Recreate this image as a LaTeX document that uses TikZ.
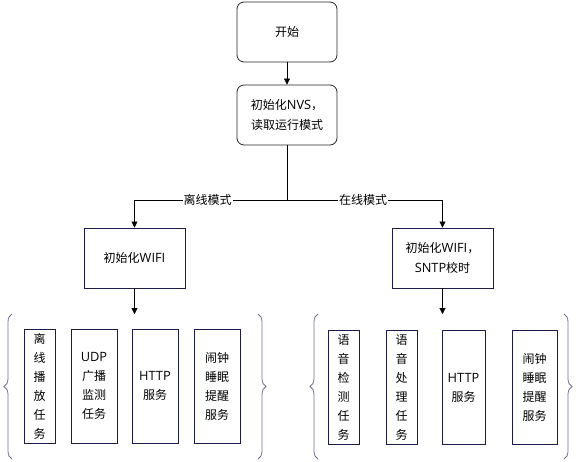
\documentclass[tikz,border=0pt]{standalone}
\usepackage{fontspec}
\setmainfont{Noto Sans CJK SC}
\newfontfamily\latinfont{Open Sans}
\newcommand{\lt}[1]{{\latinfont\fontsize{12.8}{20}\selectfont #1}}
\usetikzlibrary{arrows.meta,decorations.pathreplacing}
\definecolor{boxline}{HTML}{1C1C4C}
\definecolor{braceline}{HTML}{6E7190}

\begin{document}
\begin{tikzpicture}[x=1pt,y=-1pt,
  startbox/.style={draw=black!85,rounded corners=7pt,line width=0.8pt,minimum width=100pt,minimum height=60pt,inner sep=0pt,align=center,font=\fontsize{12}{20}\selectfont},
  initbox/.style={draw=boxline,line width=0.8pt,minimum width=101pt,minimum height=60pt,inner sep=0pt,align=center,font=\fontsize{12}{20}\selectfont},
  taskbox/.style={draw=boxline,line width=0.8pt,minimum height=114pt,inner sep=0pt,align=center,font=\fontsize{12}{19}\selectfont},
  modelabel/.style={fill=white,inner sep=1pt,font=\fontsize{12}{14}\selectfont},
  arr/.style={-{Triangle[length=6pt,width=6pt]}},
  grpbrace/.style={draw=braceline,line width=0.8pt,decorate,decoration={brace,amplitude=8pt}}]
\useasboundingbox (0,0) rectangle (576,461);

\node[startbox] (start) at (287,32) {开始};
\node[startbox] (nvs) at (287,115) {初始化\lt{NVS}，\\读取运行模式};
\coordinate (split) at (287,200);

\node[initbox] (off) at (134.5,258) {初始化\lt{WIFI}};
\node[initbox] (on) at (442.5,258) {初始化\lt{WIFI}，\\\lt{SNTP}校时};

\coordinate (offgrp) at (134.5,314);
\coordinate (ongrp) at (442.5,314);

% offline tasks
\node[taskbox,minimum width=31pt] (t0) at (39.5,386) {离\\线\\播\\放\\任\\务};
\node[taskbox,minimum width=46pt] (t1) at (94,386) {\lt{UDP}\\广播\\监测\\任务};
\node[taskbox,minimum width=46pt] (t2) at (155,386) {\lt{HTTP}\\服务};
\node[taskbox,minimum width=46pt] (t3) at (217,386) {闹钟\\睡眠\\提醒\\服务};

% online tasks
\node[taskbox,minimum width=31pt] (u0) at (343.5,387.5) {语\\音\\检\\测\\任\\务};
\node[taskbox,minimum width=31pt] (u1) at (401.5,387.5) {语\\音\\处\\理\\任\\务};
\node[taskbox,minimum width=43pt] (u2) at (463.5,387.5) {\lt{HTTP}\\服务};
\node[taskbox,minimum width=45pt] (u3) at (534.5,387.5) {闹钟\\睡眠\\提醒\\服务};

\draw[arr] (start) -- (nvs);
\draw (nvs) -- (split);
\draw[arr] (split) -| node[modelabel,pos=0.26] {离线模式} (off);
\draw[arr] (split) -| node[modelabel,pos=0.245] {在线模式} (on);
\draw[arr] (off) -- (offgrp);
\draw[arr] (on) -- (ongrp);

% braces
\draw[grpbrace] (12,459) -- (12,314);
\draw[grpbrace] (258,314) -- (258,459);
\draw[grpbrace] (318,459) -- (318,314);
\draw[grpbrace] (564,314) -- (564,459);
\end{tikzpicture}
\end{document}
